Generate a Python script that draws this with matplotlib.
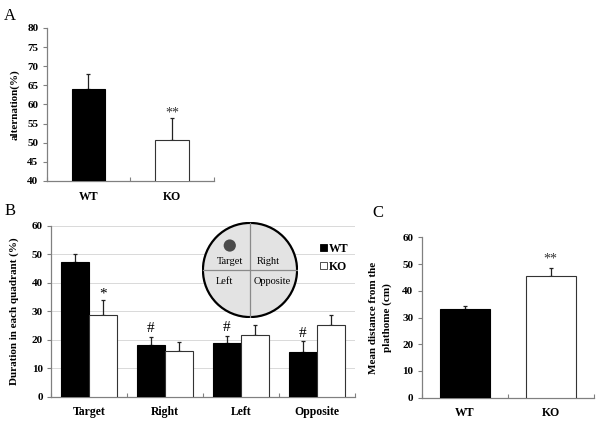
import matplotlib
matplotlib.use("Agg")
import matplotlib.pyplot as plt
import numpy as np
from matplotlib.patches import Circle, Patch

plt.rcParams["font.family"] = ["Liberation Serif", "DejaVu Serif"]

# ---- data ----
# A: spontaneous alternation
alt_groups = ["WT", "KO"]
alt_mean = [64.0, 50.8]
alt_err = [3.9, 5.7]

# B: time in each quadrant (%)
quadrants = ["Target", "Right", "Left", "Opposite"]
quad_wt = [47.4, 18.2, 18.8, 15.8]
quad_wt_err = [2.8, 2.9, 2.6, 3.7]
quad_ko = [28.7, 16.0, 21.5, 25.0]
quad_ko_err = [5.1, 3.2, 3.5, 3.8]
quad_wt_marks = ["", "#", "#", "#"]
quad_ko_marks = ["*", "", "", ""]

# C: mean distance from platform
dist_groups = ["WT", "KO"]
dist_mean = [33.2, 45.5]
dist_err = [1.2, 2.9]

AXIS_GRAY = "#808080"
BOLD = dict(fontweight="bold")


def style_axes(ax):
    for side in ("top", "right"):
        ax.spines[side].set_visible(False)
    for side in ("left", "bottom"):
        ax.spines[side].set_color(AXIS_GRAY)
        ax.spines[side].set_linewidth(0.9)
    ax.tick_params(axis="y", direction="out", length=3, width=0.8,
                   color=AXIS_GRAY, labelsize=8, pad=3)
    ax.tick_params(axis="x", which="major", length=0, labelsize=8.5, pad=7)
    ax.tick_params(axis="x", which="minor", direction="in", length=3,
                   width=0.8, color=AXIS_GRAY)
    for lab in ax.get_yticklabels() + ax.get_xticklabels():
        lab.set_fontweight("bold")


def two_bar_panel(ax, groups, means, errs, ylim, yticks, ylabel, mark, mark_pad, width):
    x = np.arange(len(groups))
    ax.bar(x, means, width=width, color=["black", "white"],
           edgecolor=["black", "#333333"], linewidth=0.8, zorder=3)
    ax.errorbar(x, means, yerr=[[0] * len(errs), errs], fmt="none",
                ecolor="#222222", elinewidth=0.9, capsize=1.6, capthick=0.9,
                zorder=2)
    ax.set_xlim(-0.5, len(groups) - 0.5)
    ax.set_ylim(*ylim)
    ax.set_yticks(yticks)
    ax.set_xticks(x)
    ax.set_xticklabels(groups)
    ax.set_xticks(np.arange(len(groups) + 1) - 0.5, minor=True)
    ax.set_ylabel(ylabel, fontsize=8, linespacing=1.6, **BOLD)
    ax.annotate(mark, (x[1], means[1] + errs[1]), xytext=(0, mark_pad),
                textcoords="offset points", ha="center", va="bottom",
                fontsize=10, color="#333333")
    style_axes(ax)


fig = plt.figure(figsize=(5.98, 4.21), dpi=100)

# ---- A ----
axA = fig.add_axes([0.0781, 0.5701, 0.2793, 0.3634])
two_bar_panel(axA, alt_groups, alt_mean, alt_err, (40, 80),
              np.arange(40, 81, 5), "alternation(%)", "**", -1, 0.4)
axA.yaxis.set_label_coords(-0.165, 0.5)

# ---- B ----
axB = fig.add_axes([0.0853, 0.0577, 0.5084, 0.4062])
xq = np.arange(len(quadrants))
w = 0.373
axB.bar(xq - w / 2, quad_wt, width=w, color="black", edgecolor="black",
        linewidth=0.8, zorder=3, label="WT")
axB.bar(xq + w / 2, quad_ko, width=w, color="white", edgecolor="#333333",
        linewidth=0.8, zorder=3, label="KO")
axB.errorbar(xq - w / 2, quad_wt, yerr=[[0] * 4, quad_wt_err], fmt="none",
             ecolor="#222222", elinewidth=0.9, capsize=1.6, capthick=0.9, zorder=2)
axB.errorbar(xq + w / 2, quad_ko, yerr=[[0] * 4, quad_ko_err], fmt="none",
             ecolor="#222222", elinewidth=0.9, capsize=1.6, capthick=0.9, zorder=2)
for i in range(4):
    if quad_wt_marks[i]:
        axB.annotate(quad_wt_marks[i], (xq[i] - w / 2, quad_wt[i] + quad_wt_err[i]),
                     xytext=(0, 1), textcoords="offset points", ha="center",
                     va="bottom", fontsize=11)
    if quad_ko_marks[i]:
        axB.annotate(quad_ko_marks[i], (xq[i] + w / 2, quad_ko[i] + quad_ko_err[i]),
                     xytext=(0, 0), textcoords="offset points", ha="center",
                     va="bottom", fontsize=11)
axB.set_xlim(-0.5, 3.5)
axB.set_ylim(0, 60)
axB.set_yticks(np.arange(0, 61, 10))
axB.set_xticks(xq)
axB.set_xticklabels(quadrants)
axB.set_xticks(np.arange(5) - 0.5, minor=True)
axB.yaxis.grid(True, color="#d9d9d9", linewidth=0.7, zorder=0)
axB.set_axisbelow(True)
axB.set_ylabel("Duration in each quadrant (%)", fontsize=8, **BOLD)
axB.yaxis.set_label_coords(-0.105, 0.5)
style_axes(axB)

handles = [Patch(facecolor="black", edgecolor="black", linewidth=0.6),
           Patch(facecolor="white", edgecolor="#333333", linewidth=0.6)]
fig.legend(handles, ["WT", "KO"], loc="upper left",
           bbox_to_anchor=(314 / 598, 1 - 237 / 421), frameon=False,
           handlelength=0.6, handleheight=0.6, handletextpad=0.15,
           labelspacing=0.5, borderpad=0,
           prop={"family": "Liberation Serif", "weight": "bold", "size": 8.5})

# quadrant sketch
axI = fig.add_axes([202 / 598, 1 - 318 / 421, 96 / 598, 96 / 421])
axI.set_xlim(-1.02, 1.02)
axI.set_ylim(-1.02, 1.02)
axI.set_aspect("equal")
axI.axis("off")
axI.add_patch(Circle((0, 0), 1, facecolor="#e3e3e3", edgecolor="black",
                     linewidth=1.6))
axI.plot([-1, 1], [0, 0], color="#8a8a8a", linewidth=0.9)
axI.plot([0, 0], [-1, 1], color="#8a8a8a", linewidth=0.9)
axI.add_patch(Circle((-0.43, 0.52), 0.13, facecolor="#4a4a4a", edgecolor="none"))
for txt, tx, ty in [("Target", -0.43, 0.18), ("Right", 0.38, 0.18),
                    ("Left", -0.55, -0.24), ("Opposite", 0.48, -0.24)]:
    axI.text(tx, ty, txt, ha="center", va="center", fontsize=7.5)

# ---- C ----
axC = fig.add_axes([0.7052, 0.0553, 0.2876, 0.3810])
two_bar_panel(axC, dist_groups, dist_mean, dist_err, (0, 60),
              np.arange(0, 61, 10), "Mean distance from the\nplathome (cm)", "**", 2, 0.58)
axC.yaxis.set_label_coords(-0.17, 0.5)

# panel letters
fig.text(10 / 598, 1 - 16 / 421, "A", fontsize=12, va="center", ha="center")
fig.text(10 / 598, 1 - 211 / 421, "B", fontsize=12, va="center", ha="center")
fig.text(378 / 598, 1 - 213 / 421, "C", fontsize=12, va="center", ha="center")

fig.savefig("out.png", dpi=100)
